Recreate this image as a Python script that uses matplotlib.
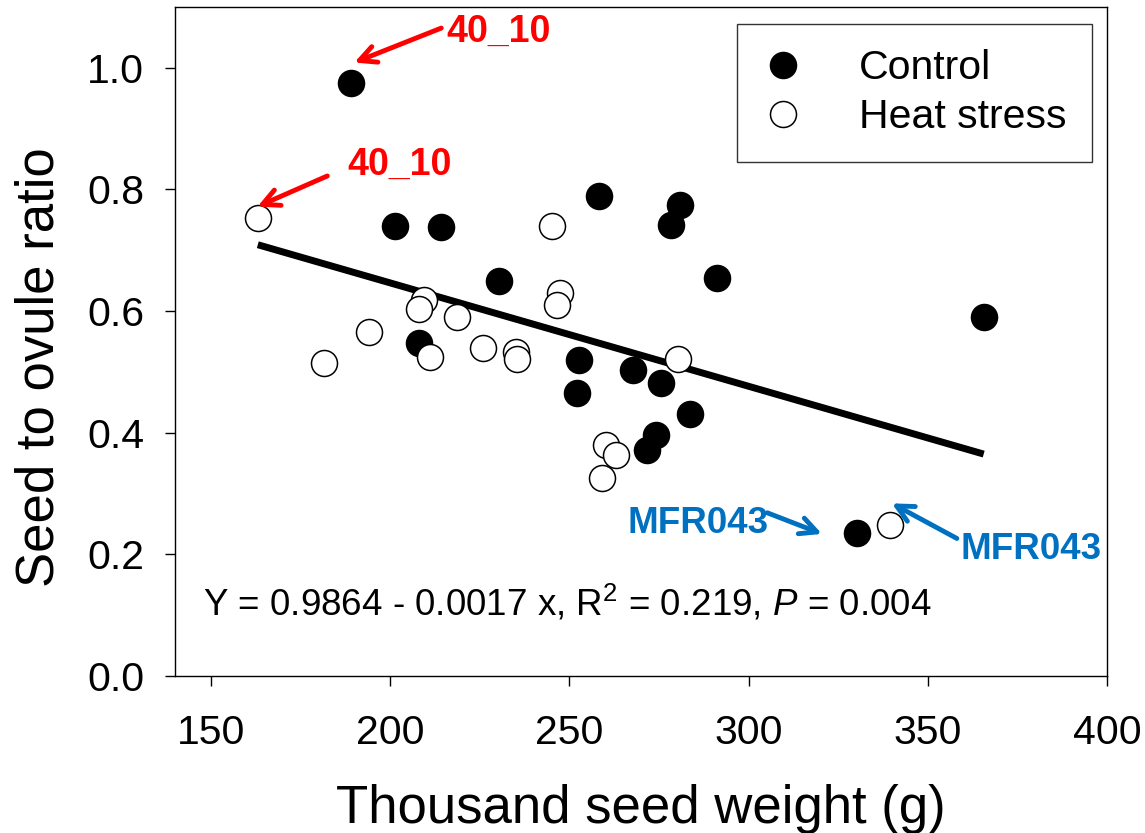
import matplotlib
matplotlib.use("Agg")
import matplotlib.pyplot as plt
import numpy as np

plt.rcParams['font.family'] = ['Liberation Sans', 'DejaVu Sans']
plt.rcParams['mathtext.fontset'] = 'custom'
plt.rcParams['mathtext.rm'] = 'Liberation Sans'
plt.rcParams['mathtext.it'] = 'Liberation Sans:italic'

# Data (thousand seed weight, seed-to-ovule ratio)
control_x = [189.1, 201.4, 214.1, 230.5, 208.2, 258.4, 281.0, 278.3, 291.1,
             252.7, 267.7, 275.5, 252.1, 283.8, 274.3, 271.7, 365.6, 330.2]
control_y = [0.975, 0.740, 0.738, 0.650, 0.548, 0.789, 0.775, 0.742, 0.655,
             0.519, 0.503, 0.482, 0.465, 0.430, 0.396, 0.372, 0.590, 0.235]
heat_x = [163.1, 181.5, 194.2, 209.5, 208.2, 211.0, 218.6, 225.9, 235.2,
          235.5, 245.3, 247.5, 246.6, 280.4, 260.3, 263.1, 259.2, 339.5]
heat_y = [0.753, 0.514, 0.566, 0.618, 0.604, 0.525, 0.591, 0.540, 0.533,
          0.521, 0.740, 0.629, 0.610, 0.522, 0.380, 0.364, 0.325, 0.248]

intercept = 0.9864
slope = -0.0017
r2 = 0.219
p_value = 0.004

x_ticks = [150, 200, 250, 300, 350, 400]
y_ticks = [0.0, 0.2, 0.4, 0.6, 0.8, 1.0]

fig = plt.figure(figsize=(11.45, 8.33), dpi=100)
ax = fig.add_axes([175/1145, (833-676)/833, (1107-175)/1145, (676-7)/833])

ms = 26 * 72 / 100
mew = 1.1

ax.plot(control_x, control_y, 'o', ms=ms, mfc='black', mec='black', mew=mew,
        label='Control', zorder=3)
ax.plot(heat_x, heat_y, 'o', ms=ms, mfc='white', mec='black', mew=mew,
        label='Heat stress', zorder=3)

all_x = np.array(control_x + heat_x)
xl = np.array([all_x.min(), all_x.max()])
ax.plot(xl, intercept + slope * xl, color='black', lw=5, solid_capstyle='butt', zorder=2)

ax.set_xlim(140, 400)
ax.set_ylim(0, 1.1)
ax.set_xticks(x_ticks)
ax.set_yticks(y_ticks)
ax.set_yticklabels([f"{v:.1f}" for v in y_ticks])
ax.tick_params(axis='both', direction='out', length=7.2, width=1.0, labelsize=29.5)
ax.tick_params(axis='x', pad=20)
ax.tick_params(axis='y', pad=15)
for s in ax.spines.values():
    s.set_linewidth(1.0)

ax.set_xlabel('Thousand seed weight (g)', fontsize=38, labelpad=23)
ax.set_ylabel('Seed to ovule ratio', fontsize=38)
ax.yaxis.set_label_coords(-0.119, 0.462)

leg = ax.legend(loc='upper right', bbox_to_anchor=(0.984, 0.975), borderaxespad=0,
                fontsize=29.5, frameon=True, fancybox=False, edgecolor='black',
                handlelength=1.0, handletextpad=1.35, borderpad=0.62, labelspacing=0.27,
                numpoints=1)
leg.get_frame().set_linewidth(1.0)

ax.text(147.8, 0.100,
        f"Y = {intercept} - {abs(slope)} x, R$^2$ = {r2}, $P$ = {p_value:.3f}",
        fontsize=26.5, ha='left', va='baseline')

red = '#FF0000'
blue = '#0070C0'
arrow_kw = dict(arrowstyle='->', lw=3.5, mutation_scale=30)

ax.text(215.8, 1.043, '40_10', color=red, fontsize=27, fontweight='bold', va='baseline')
ax.annotate('', xy=(189.3, 1.007), xytext=(215.0, 1.067),
            arrowprops=dict(color=red, **arrow_kw))
ax.text(188.2, 0.824, '40_10', color=red, fontsize=27, fontweight='bold', va='baseline')
ax.annotate('', xy=(162.3, 0.770), xytext=(183.2, 0.824),
            arrowprops=dict(color=red, **arrow_kw))

ax.text(266.3, 0.235, 'MFR043', color=blue, fontsize=26.5, fontweight='bold', va='baseline')
ax.annotate('', xy=(321.2, 0.232), xytext=(304.5, 0.270),
            arrowprops=dict(color=blue, **arrow_kw))
ax.text(359.1, 0.192, 'MFR043', color=blue, fontsize=26.5, fontweight='bold', va='baseline',
        clip_on=False)
ax.annotate('', xy=(339.3, 0.286), xytext=(358.8, 0.224),
            arrowprops=dict(color=blue, **arrow_kw))

fig.savefig('out.png', dpi=100)
